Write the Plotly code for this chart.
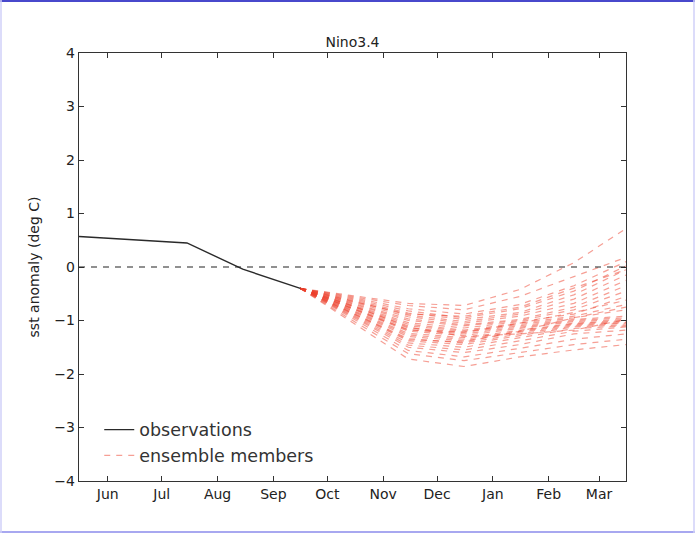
import plotly.graph_objects as go

# ---------------- data ----------------
obs_dates = ["2017-05-16", "2017-06-15", "2017-07-15", "2017-08-15", "2017-09-16"]
obs_values = [0.57, 0.51, 0.45, -0.04, -0.40]

ens_dates = ["2017-09-16", "2017-10-16", "2017-11-15", "2017-12-16",
             "2018-01-16", "2018-02-15", "2018-03-16"]
ens_start = -0.40
ens_oct = [-0.54, -0.56, -0.58, -0.60, -0.62, -0.64, -0.66, -0.68, -0.70, -0.72,
           -0.73, -0.75, -0.77, -0.78, -0.80, -0.82, -0.84, -0.85, -0.87, -0.89,
           -0.91, -0.93, -0.95, -0.98, -1.02, -1.06, -0.65, -0.79, -0.88, -0.74]
ens_nov = [-0.68, -0.72, -0.78, -0.82, -0.86, -0.90, -0.93, -0.97, -1.00, -1.04,
           -1.07, -1.10, -1.14, -1.17, -1.20, -1.24, -1.27, -1.30, -1.34, -1.38,
           -1.42, -1.46, -1.50, -1.56, -1.62, -1.72, -0.88, -1.18, -1.36, -1.12]
ens_dec = [-0.72, -0.80, -0.88, -0.95, -0.98, -1.02, -1.05, -1.08, -1.10, -1.14,
           -1.18, -1.20, -1.22, -1.25, -1.28, -1.32, -1.35, -1.38, -1.42, -1.45,
           -1.50, -1.55, -1.60, -1.68, -1.75, -1.86, -0.92, -1.22, -1.40, -1.30]
ens_jan = [-0.42, -0.55, -0.70, -0.78, -0.85, -0.88, -0.92, -0.98, -1.00, -1.02,
           -1.05, -1.08, -1.10, -1.12, -1.15, -1.18, -1.20, -1.22, -1.25, -1.28,
           -1.32, -1.38, -1.45, -1.52, -1.60, -1.68, -0.75, -1.05, -1.20, -1.25]
ens_feb = [0.08, -0.18, -0.35, -0.45, -0.52, -0.60, -0.68, -0.75, -0.80, -0.88,
           -0.92, -0.95, -0.98, -1.00, -1.02, -1.05, -1.06, -1.08, -1.10, -1.12,
           -1.15, -1.20, -1.25, -1.35, -1.45, -1.55, -0.40, -0.85, -0.95, -1.18]
ens_mar = [0.72, 0.18, 0.10, 0.02, -0.05, -0.15, -0.25, -0.35, -0.45, -0.55,
           -0.70, -0.80, -0.92, -0.95, -0.98, -1.00, -1.02, -1.04, -1.05, -1.08,
           -1.10, -1.12, -1.18, -1.25, -1.35, -1.45, -0.05, -0.62, -0.75, -0.98]

tick_dates = ["2017-06-01", "2017-07-01", "2017-08-01", "2017-09-01", "2017-10-01",
              "2017-11-01", "2017-12-01", "2018-01-01", "2018-02-01", "2018-03-01"]
tick_labels = ["Jun", "Jul", "Aug", "Sep", "Oct", "Nov", "Dec", "Jan", "Feb", "Mar"]
y_ticks = [-4, -3, -2, -1, 0, 1, 2, 3, 4]
x_range = ["2017-05-16", "2018-03-16"]

# ---------------- figure ----------------
FONT = "DejaVu Sans"
fig = go.Figure()

red = "rgba(238,64,44,0.5)"
for i in range(len(ens_oct)):
    ys = [ens_start, ens_oct[i], ens_nov[i], ens_dec[i], ens_jan[i], ens_feb[i], ens_mar[i]]
    fig.add_trace(go.Scatter(
        x=ens_dates, y=ys, mode="lines",
        line=dict(color=red, width=1.2, dash="6px,6px"),
        name="ensemble members", legendrank=2,
        showlegend=(i == 0), hoverinfo="skip"))

fig.add_trace(go.Scatter(
    x=obs_dates, y=obs_values, mode="lines",
    line=dict(color="#2a2a2a", width=1.4),
    name="observations", legendrank=1))

fig.add_hline(y=0, line=dict(color="#222", width=1.1, dash="6px,6px"))

axis_common = dict(
    showline=True, linecolor="#333", linewidth=1.4, mirror="allticks",
    ticks="inside", ticklen=5, tickcolor="#333", tickwidth=1,
    showgrid=False, zeroline=False,
    tickfont=dict(family=FONT, size=14, color="#222"),
)

fig.update_xaxes(type="date", range=x_range, tickvals=tick_dates,
                 ticktext=tick_labels, **axis_common)
fig.update_yaxes(range=[-4, 4], tickvals=y_ticks,
                 ticktext=[("\u2212" + str(-v)) if v < 0 else str(v) for v in y_ticks],
                 title=dict(text="sst anomaly (deg C)",
                            font=dict(family=FONT, size=14, color="#222"),
                            standoff=11),
                 **axis_common)

W, H = 695, 533
L, R, T, B = 79, 69, 53, 52
pw, ph = W - L - R, H - T - B

def px_x(x):
    return (x - L) / pw

def px_y(y):
    return (H - B - y) / ph

# image frame
fig.add_shape(type="line", xref="paper", yref="paper",
              x0=px_x(0), x1=px_x(W), y0=px_y(1), y1=px_y(1),
              line=dict(color="#4848cc", width=2))
fig.add_shape(type="line", xref="paper", yref="paper",
              x0=px_x(0), x1=px_x(W), y0=px_y(H - 1), y1=px_y(H - 1),
              line=dict(color="#a8a8f0", width=2))
fig.add_shape(type="line", xref="paper", yref="paper",
              x0=px_x(1), x1=px_x(1), y0=px_y(0), y1=px_y(H),
              line=dict(color="#d0d0f8", width=1.5))
fig.add_shape(type="line", xref="paper", yref="paper",
              x0=px_x(W - 1), x1=px_x(W - 1), y0=px_y(0), y1=px_y(H),
              line=dict(color="#d0d0f8", width=1.5))

fig.update_layout(
    width=W, height=H,
    margin=dict(l=L, r=R, t=T, b=B),
    paper_bgcolor="white", plot_bgcolor="white",
    title=dict(text="Nino3.4", x=0.5, xref="paper", xanchor="center",
               y=1 - 42 / H, yref="container", yanchor="middle",
               font=dict(family=FONT, size=14, color="#222")),
    legend=dict(x=0.037, y=0.017, xanchor="left", yanchor="bottom",
                bgcolor="rgba(0,0,0,0)", itemwidth=30,
                font=dict(family=FONT, size=17.5, color="#333"),
                traceorder="normal"),
    showlegend=True,
)

fig.write_html(
    "out.html",
    config={"displayModeBar": False},
    post_script="document.body.style.margin='0';document.body.style.padding='0';",
)
